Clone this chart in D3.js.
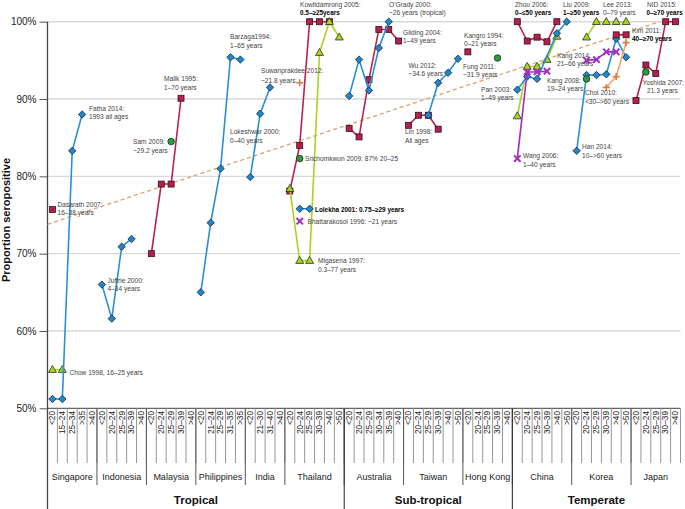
<!DOCTYPE html>
<html><head><meta charset="utf-8">
<script src="https://cdn.jsdelivr.net/npm/d3@7"></script>
<style>body{margin:0;background:#fff}svg{display:block;font-family:"Liberation Sans",Arial,sans-serif}</style>
</head><body><svg id="c" width="685" height="509"></svg>
<script>
// ---- categories / groups ----
const categories = [
 "<20","15–24","25–34",">35",">40",
 "<20","20–24","25–29","30–39",">40",
 "<20","20–24","25–29","30–39",">40",
 "<20","21–24","25–29","31–35",">35",
 "<20","21–30","31–40",">40",
 "<20","20–24","25–29","30–39",">40",">50",
 "<20","20–24","25–29","30–34","35–39",">40",
 "<20","20–24","25–29","30–39",">40",">50",
 "<20","20–24","25–29","30–39",">40",
 "<20","20–24","25–29","30–39",">40",">50",
 "<20","20–24","25–29","30–39",">40",">50",
 "<20","20–24","25–29","30–39",">40"];
const countries = ["Singapore","Indonesia","Malaysia","Philippines","India","Thailand","Australia","Taiwan","Hong Kong","China","Korea","Japan"];
const countrySizes = [5,5,5,5,4,6,6,6,5,6,6,5];
const regions = ["Tropical","Sub-tropical","Temperate"];
const regionSizes = [30,17,17];
const yTicks = [50,60,70,80,90,100];

// ---- series values (start category index, values; null = no point) ----
const fatha2014 = [51.2,51.2,83.3,88.0];
const juffrie2000 = [66.0,61.6,70.9,71.9];
const barzaga1994 = [65.0,74.0,81.0,95.4,95.1];
const lokeshwar2000 = [79.9,88.1,91.5];
const lolekha2001 = [75.8,75.8];
const ogrady2000 = [90.4,95.1,91.1,96.6,100];
const wu2012 = [87.9,92.1,93.4,95.2];
const panLiu = [91.2,92.9,92.6,null,98.5,100];
const han2014 = [83.3,93.1,93.1,93.2,97.8,95.4];

const dasarath2007 = [75.7];
const malik1995 = [70.0,79.0,79.0,90.1];
const kowitdamrong2005 = [78.1,84.0,100,100,100];
const gilding2004 = [86.2,85.1,92.5,99.0,99.0,97.5];
const lin1998 = [86.6,87.9,87.9,86.1];
const kangro1994 = [96.1];
const zhou2006 = [100,97.5,98.0,97.4,100];
const kim2011 = [98.3,98.3];
const nid2015 = [89.8,94.4,93.3,100,100];

const chow1998 = [55,55];
const migasena1997 = [78.4,69.1,69.1,96.0,100,98.0];
const chinaGreen = [87.8,94.2,94.2,95.1,98.1];
const lee2013 = [98.0,100,100,100,100];

const sam2009 = [84.5];
const srichomkwun2009 = [82.3];
const fung2011 = [95.3];
const kang2008 = [92.6];
const yoshida2007 = [93.5];

const bhattarakosol1996 = [74.2];
const wang2006 = [82.3,93.5,93.5,93.6];
const kang2014 = [95.0,95.1,96.1,96.1];

const suwanprakdee2012 = [92.1];
const choi2010 = [91.5,92.9,97.3];

const trendStartValue = 73.8, trendEndValue = 100, trendEndCategory = 61.4;

const series = [
 {v:chow1998,s:0,t:"tri"},
 {v:fatha2014,s:0,t:"dia"},{v:dasarath2007,s:0,t:"sq"},
 {v:juffrie2000,s:5,t:"dia"},
 {v:malik1995,s:10,t:"sq"},{v:sam2009,s:12,t:"circ"},
 {v:barzaga1994,s:15,t:"dia"},{v:lokeshwar2000,s:20,t:"dia"},
 {v:kowitdamrong2005,s:24,t:"sq"},{v:migasena1997,s:24,t:"tri"},
 {v:lolekha2001,s:25,t:"dia"},{v:bhattarakosol1996,s:25,t:"x"},
 {v:srichomkwun2009,s:25,t:"circ"},{v:suwanprakdee2012,s:25,t:"plus"},
 {v:gilding2004,s:30,t:"sq"},{v:ogrady2000,s:30,t:"dia"},
 {v:lin1998,s:36,t:"sq"},{v:wu2012,s:38,t:"dia"},
 {v:kangro1994,s:42,t:"sq"},{v:fung2011,s:45,t:"circ"},
 {v:zhou2006,s:47,t:"sq"},{v:chinaGreen,s:47,t:"tri"},{v:panLiu,s:47,t:"dia"},
 {v:wang2006,s:47,t:"x"},
 {v:han2014,s:53,t:"dia"},{v:kang2008,s:54,t:"circ"},{v:lee2013,s:54,t:"tri"},
 {v:choi2010,s:56,t:"plus"},{v:kang2014,s:54,t:"x"},{v:kim2011,s:57,t:"sq"},
 {v:nid2015,s:59,t:"sq"},{v:yoshida2007,s:60,t:"circ"}
];

const annotations = [
 ["Fatha 2014:",89,110.5],["1993 all ages",89,119],
 ["Malik 1995:",164,81],["1–70 years",164,89.5],
 ["Sam 2009:",133,143.5],["~29.2 years",133,152.5],
 ["Dasarath 2007:",57.5,206.5],["16–38 years",57.5,215],
 ["Juffrie 2000:",107.5,282.5],["4–34 years",107.5,291],
 ["Chow 1998, 16–25 years",69.5,375],
 ["Barzaga1994:",230,39],["1–65 years",230,47.5],
 ["Suwanprakdee 2012:",261,73],["~21.8 years",261,82.5],
 ["Lokeshwar 2000:",230,134],["0–40 years",230,142.5],
 ["Srichomkwun 2009: 87% 20–25",305,161],
 ["Kowitdamrong 2005:",300,6.5],["0.5–≥25years",300,14.5,1],
 ["O'Grady 2000:",389,6.5],["~26 years (tropical)",389,14.5],
 ["Gilding 2004:",403,35],["1–49 years",403,43],
 ["Wu 2012:",408.5,67.5],["~34.6 years",408.5,76],
 ["Lin 1998:",405,134],["All ages",405,142.5],
 ["Lolekha 2001: 0.75–≥29 years",315,211.5,1],
 ["Bhattarakosol 1996: ~21 years",307.5,223.5],
 ["Migasena 1997:",318,263],["0.3–77 years",318,272],
 ["Kangro 1994:",464,37.5],["0–21 years",464,46],
 ["Fung 2011:",463,68.5],["~31.9 years",463,76.5],
 ["Pan 2003:",481,91.5],["1–49 years",481,100],
 ["Zhou 2006:",515,6.5],["0–≤50 years",515,14.5,1],
 ["Liu 2009:",563,6.5],["1–≥50 years",563,14.5,1],
 ["Lee 2013:",603,6.5],["0–79 years",603,14.5],
 ["NID 2015:",647,6.5],["0–≥70 years",646.5,14.5,1],
 ["Kim 2011:",632,33],["40–≥70 years",632,41,1],
 ["Kang 2014:",557,57.5],["21–66 years",557,66],
 ["Kang 2008:",547,82.5],["19–24 years",547,91],
 ["Choi 2010:",585,95],["<30–>60 years",585,104],
 ["Yoshida 2007:",642.5,85],["21.3 years",647,93],
 ["Han 2014:",582,149],["10–>60 years",582,157.5],
 ["Wang 2006:",523,157.5],["1–40 years",523,166.5]
];

// ---- layout ----
const svg = d3.select("#c");
const L = 47.5, R = 680.5, T = 21.7, B = 408.3;
const x = d3.scaleBand().domain(d3.range(categories.length)).range([L,R]).padding(0);
const xc = i => x(i) + x.bandwidth()/2;
const xf = f => L + (f + 0.5) * x.bandwidth();
const y = d3.scaleLinear().domain([50,100]).range([B,T]);

const styles = {
 dia:{line:"#2a90d4",fill:"#1f88cc"},
 sq:{line:"#b8234e",fill:"#b3214b"},
 tri:{line:"#a8d31e",fill:"#a9d221"},
 circ:{line:"none",fill:"#2e9a40"},
 x:{line:"#a52ac4",fill:"#a52ac4"},
 plus:{line:"#f6a273",fill:"#e07a3a"}
};

// grid
svg.append("g").selectAll("line").data(yTicks.filter(d=>d>50)).join("line")
 .attr("x1",L).attr("x2",R).attr("y1",d=>y(d)).attr("y2",d=>y(d))
 .attr("stroke","#d9d9d9").attr("stroke-width",1.4);

// y axis
const ya = svg.append("g").attr("transform",`translate(${L},0)`)
 .call(d3.axisLeft(y).tickValues(yTicks).tickFormat(d=>d+"%").tickSize(8).tickPadding(3));
ya.select(".domain").remove();
ya.selectAll(".tick line").attr("stroke","#555");
ya.selectAll("text").attr("font-size",10).attr("fill","#222").attr("font-family","Liberation Sans, Arial");

// axis lines
svg.append("line").attr("x1",L).attr("x2",L).attr("y1",T).attr("y2",509).attr("stroke","#444").attr("stroke-width",1.3);
svg.append("line").attr("x1",L).attr("x2",R).attr("y1",B).attr("y2",B).attr("stroke","#666").attr("stroke-width",1.2);

// category tick lines and labels
svg.append("g").selectAll("line").data(d3.range(1,categories.length+1)).join("line")
 .attr("x1",i=>L+i*x.bandwidth()).attr("x2",i=>L+i*x.bandwidth()).attr("y1",B).attr("y2",463)
 .attr("stroke","#8a8a8a").attr("stroke-width",0.9);
svg.append("g").selectAll("text").data(categories).join("text")
 .attr("transform",(d,i)=>`translate(${xc(i)},411) rotate(-90)`)
 .attr("text-anchor","end").attr("dy","0.34em")
 .attr("font-size",8.3).attr("fill","#222").text(d=>d);

// country separators & labels
let acc = 0; const cBounds = [];
countrySizes.forEach((n,k)=>{cBounds.push([acc,acc+n]); acc+=n;});
svg.append("g").selectAll("line").data(cBounds.slice(1)).join("line")
 .attr("x1",d=>x(d[0])).attr("x2",d=>x(d[0])).attr("y1",B).attr("y2",485)
 .attr("stroke","#555").attr("stroke-width",1);
svg.append("g").selectAll("text").data(countries).join("text")
 .attr("x",(d,k)=>(xf(cBounds[k][0]-0.5)+xf(cBounds[k][1]-0.5))/2).attr("y",480)
 .attr("text-anchor","middle").attr("font-size",9).attr("fill","#222").text(d=>d);

// region separators & labels
acc = 0; const rBounds = [];
regionSizes.forEach(n=>{rBounds.push([acc,acc+n]); acc+=n;});
svg.append("g").selectAll("line").data(rBounds.slice(1)).join("line")
 .attr("x1",d=>x(d[0])).attr("x2",d=>x(d[0])).attr("y1",B).attr("y2",509)
 .attr("stroke","#333").attr("stroke-width",1.1);
svg.append("g").selectAll("text").data(regions).join("text")
 .attr("x",(d,k)=>(xf(rBounds[k][0]-0.5)+xf(rBounds[k][1]-0.5))/2).attr("y",504)
 .attr("text-anchor","middle").attr("font-size",11.5).attr("font-weight","bold").attr("fill","#111").text(d=>d);

// y label
svg.append("text").attr("transform","translate(10,220) rotate(-90)").attr("text-anchor","middle")
 .attr("font-size",11).attr("font-weight","bold").attr("fill","#111").text("Proportion seropositive");

// trend line
svg.append("line").attr("x1",L).attr("y1",y(trendStartValue)).attr("x2",xf(trendEndCategory)).attr("y2",y(trendEndValue))
 .attr("stroke","#d9a26c").attr("stroke-width",1.3).attr("stroke-dasharray","4,3");

// series
const line = d3.line().x(d=>xc(d.i)).y(d=>y(d.v));
const marks = svg.append("g");
series.forEach(s=>{
 const pts = s.v.map((v,k)=>({i:s.s+k,v})).filter(p=>p.v!==null);
 const st = styles[s.t];
 if (st.line!=="none" && pts.length>1)
   marks.append("path").attr("d",line(pts)).attr("fill","none").attr("stroke",st.line).attr("stroke-width",1.6);
 pts.forEach(p=>{
   const g = marks.append("g").attr("transform",`translate(${xc(p.i)},${y(p.v)})`);
   if (s.t==="dia") g.append("path").attr("d","M0,-3.7L3.7,0L0,3.7L-3.7,0Z").attr("fill",st.fill).attr("stroke","#1b2735").attr("stroke-width",0.8);
   else if (s.t==="sq") g.append("rect").attr("x",-3).attr("y",-3).attr("width",6).attr("height",6).attr("fill",st.fill).attr("stroke","#3a1020").attr("stroke-width",0.8);
   else if (s.t==="tri") g.append("path").attr("d","M0,-4.2L4,2.8L-4,2.8Z").attr("fill",st.fill).attr("stroke","#2a3320").attr("stroke-width",0.8);
   else if (s.t==="circ") g.append("circle").attr("r",3.3).attr("fill",st.fill).attr("stroke","#14301a").attr("stroke-width",0.8);
   else if (s.t==="x") g.append("path").attr("d","M-3.2,-3.2L3.2,3.2M-3.2,3.2L3.2,-3.2").attr("stroke",st.fill).attr("stroke-width",2);
   else if (s.t==="plus") g.append("path").attr("d","M-3.5,0L3.5,0M0,-3.5L0,3.5").attr("stroke",st.fill).attr("stroke-width",1.6);
 });
});

// annotations
svg.append("g").selectAll("text").data(annotations).join("text")
 .attr("x",d=>d[1]).attr("y",d=>d[2])
 .attr("font-size",d=>d[3]?6.4:6.6).attr("fill",d=>d[3]?"#000":"#444").attr("font-weight",d=>d[3]?"bold":"normal")
 .text(d=>d[0]);
</script></body></html>
